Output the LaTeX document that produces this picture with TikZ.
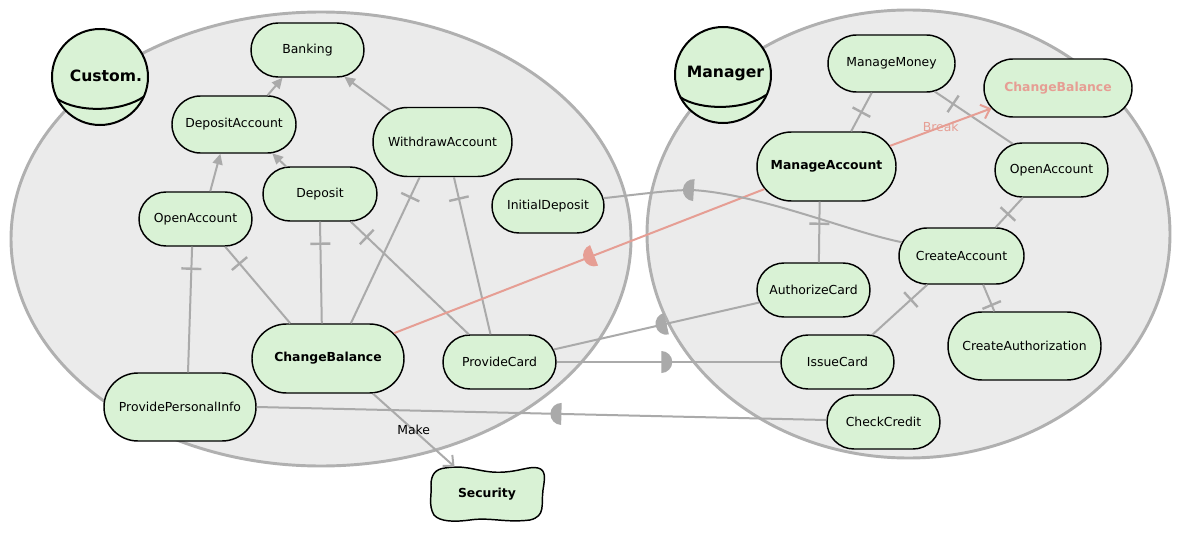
\documentclass[tikz,border=0pt]{standalone}
\usepackage{fontspec}
\setmainfont{DejaVu Sans}
\usetikzlibrary{shapes.misc,arrows.meta,decorations.markings}
\definecolor{ellfill}{RGB}{235,235,235}
\definecolor{ellline}{RGB}{176,176,176}
\definecolor{linkgray}{RGB}{170,170,170}
\definecolor{nodefill}{RGB}{217,242,213}
\definecolor{pinkc}{RGB}{230,158,148}
\tikzset{
  goal/.style={rounded rectangle, draw=black, line width=1.1pt, fill=nodefill, inner sep=0pt, font=\fontsize{9.3}{11}\selectfont},
  boldgoal/.style={goal, font=\fontsize{9.3}{11}\selectfont\bfseries},
  sz/.style 2 args={minimum width=#1*0.75pt, minimum height=#2*0.75pt},
  boundary/.style={draw=ellline, fill=ellfill, line width=2.2pt},
  actor/.style={circle, draw=black, line width=1.5pt, fill=nodefill, minimum size=72pt, inner sep=0pt},
  actorname/.style={font=\fontsize{11.7}{14}\selectfont\bfseries, inner sep=0pt},
  link/.style={draw=linkgray, line width=1.5pt},
  isa/.style={link, -{Triangle[length=8pt,width=7.5pt]}},
  tickmark/.style={postaction={decorate, decoration={markings, mark=at position -16.5pt with {\draw[linkgray, line width=1.8pt] (0,-10) -- (0,10);}}}},
  dfwd/.style 2 args={postaction={decorate, decoration={markings, mark=at position #1 with {\fill[#2] (0,-11) arc[start angle=-90, end angle=90, radius=11] -- cycle;}}}},
  dback/.style 2 args={postaction={decorate, decoration={markings, mark=at position #1 with {\fill[#2] (0,-11) arc[start angle=270, end angle=90, radius=11] -- cycle;}}}},
  lbl/.style={font=\fontsize{9.3}{11}\selectfont, inner sep=1pt},
}
\begin{document}
\begin{tikzpicture}[x=0.75pt,y=-0.75pt]
\useasboundingbox (0,0) rectangle (1182,560);
\fill[white] (0,0) rectangle (1182,560);
% boundaries
\draw[boundary] (321,239) ellipse [x radius=310, y radius=227];
\draw[boundary] (908.5,234) ellipse [x radius=261.5, y radius=224];
% actors
\node[actor] (cust) at (100,77) {};
\draw[line width=1.5pt] (57.5,99) .. controls (78,113) and (122,112) .. (144,96.5);
\node[actorname] (custname) at (106,76) {Custom.};
\node[actor] (mgr) at (723,75) {};
\draw[line width=1.5pt] (680,97) .. controls (700,111) and (745,110) .. (766,95);
\node[actorname] (mgrname) at (725.5,73) {Manager};
% customer goals
\node[goal, sz={113}{54}] (bank) at (307.5,50) {Banking};
\node[goal, sz={124}{57}] (depacc) at (234,124.5) {DepositAccount};
\node[goal, sz={139}{69}] (withdraw) at (442.5,142) {WithdrawAccount};
\node[goal, sz={114}{54}] (deposit) at (320,194) {Deposit};
\node[goal, sz={113}{54}] (openL) at (195.5,219) {OpenAccount};
\node[goal, sz={112}{54}] (initdep) at (548,206) {InitialDeposit};
\node[boldgoal, sz={152}{69}] (cbL) at (328,358.5) {ChangeBalance};
\node[goal, sz={113}{54}] (provcard) at (499.5,362) {ProvideCard};
\node[goal, sz={152}{68}] (ppi) at (180,407) {ProvidePersonalInfo};
% security (wavy)
\filldraw[fill=nodefill, draw=black, line width=1.1pt] (445,468) .. controls (470,464) and (480,474) .. (505,472) .. controls (520,471) and (530,466) .. (538,468) .. controls (546,470) and (545,478) .. (543,490) .. controls (541,505) and (546,516) .. (530,520) .. controls (505,523) and (490,517) .. (470,520) .. controls (455,522) and (440,522) .. (434,515) .. controls (428,505) and (432,495) .. (431,485) .. controls (431,474) and (436,469) .. (445,468) -- cycle;
\node[inner sep=0pt, sz={114}{54}, font=\fontsize{9.3}{11}\selectfont\bfseries] (sec) at (487,494) {Security};
% manager goals
\node[goal, sz={127}{57}] (mmoney) at (891.5,63.5) {ManageMoney};
\node[boldgoal, sz={148}{58}, text=pinkc] (cbR) at (1058,88) {ChangeBalance};
\node[boldgoal, sz={139}{69}] (macc) at (826.5,166.5) {ManageAccount};
\node[goal, sz={113}{54}] (openR) at (1051.5,170) {OpenAccount};
\node[goal, sz={125}{56}] (createacc) at (961.5,256) {CreateAccount};
\node[goal, sz={113}{54}] (authcard) at (813.5,290) {AuthorizeCard};
\node[goal, sz={113}{54}] (issue) at (837.5,362) {IssueCard};
\node[goal, sz={153}{68}] (createauth) at (1024.5,346) {CreateAuthorization};
\node[goal, sz={113}{54}] (check) at (883.5,422) {CheckCredit};
% is-a links
\draw[isa] (depacc.41) -- (bank.228);
\draw[isa] (withdraw.149) -- (bank.324);
\draw[isa] (openL.62) -- (depacc.245);
\draw[isa] (deposit.141) -- (depacc.323);
% decomposition links
\draw[link, tickmark] (cbL.137) -- (openL.317);
\draw[link, tickmark] (cbL.100) -- (deposit.270);
\draw[link, tickmark] (cbL.57) -- (withdraw.237);
\draw[link, tickmark] (provcard.138) -- (deposit.318);
\draw[link, tickmark] (provcard.108) -- (withdraw.288);
\draw[link, tickmark] (ppi.77) -- (openL.263);
\draw[link, tickmark] (macc.55) -- (mmoney.236);
\draw[link, tickmark] (openR.146) -- (mmoney.327);
\draw[link, tickmark] (createacc.40) -- (openR.224);
\draw[link, tickmark] (issue.38) -- (createacc.220);
\draw[link, tickmark] (createauth.131) -- (createacc.307);
\draw[link, tickmark] (authcard.79) -- (macc.259);
% make link
\draw[link, -{Straight Barb[length=6pt,width=11pt]}] (cbL.322) -- node[lbl] (lmake) {Make} (sec.140);
% break link
\draw[draw=pinkc, line width=1.5pt, -{Straight Barb[length=6pt,width=11pt]}] (macc.18) -- node[lbl, text=pinkc] (lbreak) {Break} (cbR.197);
% dependency links
\draw[draw=pinkc, line width=1.5pt, dback={161pt}{pinkc}] (cbL.21) -- (macc.200);
\draw[link, dback={68pt}{linkgray}] (initdep.8) .. controls (650,193) and (672,190) .. (692,190) .. controls (760,194) and (850,232) .. (createacc.167);
\draw[link, dback={-71.4pt}{linkgray}] (provcard.13) -- (authcard.193);
\draw[link, dfwd={-89.25pt}{linkgray}] (provcard.east) -- (issue.west);
\draw[link, dback={-198.75pt}{linkgray}] (ppi.east) -- (check.178);
\end{tikzpicture}
\end{document}
